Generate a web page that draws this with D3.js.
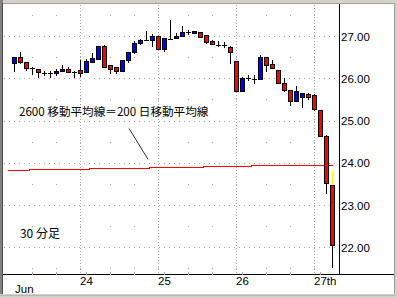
<!DOCTYPE html>
<html>
<head>
<meta charset="utf-8">
<script src="https://cdn.jsdelivr.net/npm/d3@7"></script>
<style>
  body { margin: 0; background: #d4d0c8; }
  text { font-family: "Liberation Sans", Arial, sans-serif; }
</style>
</head>
<body>
<div id="chart"></div>
<script>
// 30-minute candles, Jun 23 (partial) .. Jun 27
const open  = [26.37,26.50,26.39,26.24,26.21,26.13,26.13,26.12,26.17,26.22,26.14,
               26.19,26.14,26.39,26.46,26.76,26.31,26.26,26.18,26.43,26.61,26.83,26.91,26.90,
               26.99,26.69,26.94,26.95,27.00,27.09,27.06,27.10,27.02,26.87,26.79,26.78,26.73,
               26.40,25.70,26.01,25.99,25.98,26.50,26.33,26.19,25.88,25.72,25.45,25.56,25.62,
               25.60,25.24,24.63,23.47];
const high  = [26.50,26.61,26.39,26.27,26.21,26.18,26.16,26.21,26.31,26.27,26.17,
               26.43,26.45,26.59,26.76,26.79,26.31,26.26,26.43,26.63,26.88,26.93,27.12,27.04,
               26.99,26.96,27.38,27.06,27.24,27.14,27.12,27.10,27.02,26.91,26.87,26.85,26.76,
               26.40,26.02,26.07,26.08,26.55,26.50,26.43,26.19,26.00,25.72,25.82,25.56,25.64,
               25.63,25.24,24.65,23.81];
const low   = [26.16,26.35,26.20,26.10,26.04,26.07,26.02,26.07,26.17,26.14,26.02,
               26.06,26.14,26.39,26.46,26.27,26.13,26.13,26.18,26.39,26.59,26.81,26.90,26.77,
               26.70,26.65,26.92,26.95,27.00,27.04,27.06,26.98,26.83,26.81,26.77,26.73,26.35,
               25.70,25.70,25.96,25.88,25.98,26.18,26.24,25.88,25.70,25.36,25.45,25.33,25.51,
               25.25,24.64,23.29,21.54];
const close = [26.50,26.39,26.24,26.24,26.14,26.13,26.13,26.17,26.22,26.14,26.14,
               26.12,26.41,26.47,26.76,26.27,26.23,26.18,26.43,26.61,26.83,26.91,26.91,26.99,
               26.70,26.95,26.94,27.01,27.09,27.09,27.12,26.98,26.85,26.81,26.79,26.78,26.63,
               25.70,26.01,26.01,25.99,26.50,26.31,26.24,25.88,25.72,25.45,25.70,25.64,25.56,
               25.27,24.64,23.51,22.05];
// 2600-bar moving average (= 200-day MA)
const ma    = [23.82,23.82,23.82,
               23.845,23.845,23.845,23.845,23.845,23.845,23.845,23.845,23.845,23.845,
               23.87,23.87,23.87,23.87,23.87,23.87,23.87,23.87,23.87,23.87,
               23.89,23.89,23.89,23.89,23.89,23.89,23.89,23.89,23.89,
               23.915,23.915,23.915,23.915,23.915,23.915,23.915,23.915,
               23.935,23.935,23.935,23.935,23.935,23.935,23.935,23.935,23.935,23.935,23.935,23.935,23.935,23.935];

const dayStart   = [11, 24, 37, 50];
const dayLabel   = ["24", "25", "26", "27th"];
const monthLabel = "Jun";
const minorTicks = [3, 7, 12, 16, 20, 25, 29, 33, 38, 42, 46, 51];
const gridDots   = [3, 7, 16, 20, 29, 33, 42, 46];
const priceTicks = [22, 23, 24, 25, 26, 27];
const halfTicks  = [21.5, 22.5, 23.5, 24.5, 25.5, 26.5, 27.5];
const lastHighlight = 53;
const noteText = "2600 移動平均線＝200 日移動平均線";
const noteAt   = [0.75, 25.1];
const notePointer = [[19.1, 24.81], [22.25, 24.08]];
const barText  = "30 分足";
const barTextAt = [0.9, 22.22];

const W = 397, H = 298;
const plotL = 3, plotR = 339.5, plotT = 4, plotB = 274.5;

const svg = d3.select("#chart").append("svg")
  .attr("width", W).attr("height", H);

// frame
svg.append("rect").attr("width", W).attr("height", H).attr("fill", "#d4d0c8");
svg.append("rect").attr("x", 3).attr("y", 4).attr("width", 391).attr("height", 290).attr("fill", "#fff");
svg.append("rect").attr("x", 0).attr("y", 0).attr("width", 3).attr("height", 294).attr("fill", "#808080");
svg.append("line").attr("x1", 2.5).attr("x2", 2.5).attr("y1", 3).attr("y2", 294).attr("stroke", "#505050");
svg.append("line").attr("x1", 3).attr("x2", 395).attr("y1", 3.5).attr("y2", 3.5).attr("stroke", "#a0a0a0");
svg.append("line").attr("x1", 394.5).attr("x2", 394.5).attr("y1", 4).attr("y2", 294).attr("stroke", "#a0a0a0");
svg.append("line").attr("x1", 0).attr("x2", 395).attr("y1", 295.5).attr("y2", 295.5).attr("stroke", "#b8b8b8");

const x = d3.scaleLinear().domain([0, 53]).range([14.5, 332.5]);
const y = d3.scaleLinear().domain([22, 27]).range([247.25, 36]);
const snap = v => Math.round(v) + 0.5;

const g = svg.append("g").attr("shape-rendering", "crispEdges");

// grid
g.selectAll(".hgrid").data(priceTicks).enter().append("line")
  .attr("x1", plotL + 1).attr("x2", plotR)
  .attr("y1", d => snap(y(d))).attr("y2", d => snap(y(d)))
  .attr("stroke", "#a8a8a8").attr("stroke-dasharray", "1,4");

g.selectAll(".vgrid").data(dayStart).enter().append("line")
  .attr("x1", d => x(d)).attr("x2", d => x(d))
  .attr("y1", plotT + 1).attr("y2", plotB)
  .attr("stroke", "#a8a8a8").attr("stroke-dasharray", "1,2");

const dots = [];
gridDots.forEach(i => halfTicks.forEach(p => dots.push([i, p])));
dayStart.forEach(i => halfTicks.forEach(p => dots.push([i, p])));
g.selectAll(".dot").data(dots).enter().append("rect")
  .attr("x", d => x(d[0]) - 0.5).attr("y", d => snap(y(d[1])) - 0.5)
  .attr("width", 1).attr("height", 1).attr("fill", "#a8a8a8");

// moving average
const maLine = d3.line()
  .x(d => d[0]).y(d => snap(y(d[1])))
  .curve(d3.curveStepAfter);
const maPts = [[plotL + 5, ma[0]]].concat(ma.map((v, i) => [x(i) - 3, v]));
maPts.push([x(ma.length - 1), ma[ma.length - 1]]);
g.append("path").attr("d", maLine(maPts))
  .attr("fill", "none").attr("stroke", "#ff0000").attr("stroke-width", 1);

// candles
const candles = open.map((o, i) => ({i, o, h: high[i], l: low[i], c: close[i]}));
const cg = g.selectAll(".candle").data(candles).enter().append("g");

cg.append("line")
  .attr("x1", d => x(d.i)).attr("x2", d => x(d.i))
  .attr("y1", d => Math.round(y(d.h))).attr("y2", d => Math.round(y(d.l)) + 1)
  .attr("stroke", "#000");

cg.filter(d => d.i === lastHighlight).append("line")
  .attr("x1", d => x(d.i)).attr("x2", d => x(d.i))
  .attr("y1", d => Math.round(y(d.h))).attr("y2", d => Math.round(y(Math.max(d.o, d.c))))
  .attr("stroke", "#ffff00");

cg.filter(d => d.o !== d.c).append("rect")
  .attr("x", d => x(d.i) - 2)
  .attr("y", d => snap(y(Math.max(d.o, d.c))))
  .attr("width", 4)
  .attr("height", d => Math.max(1, snap(y(Math.min(d.o, d.c))) - snap(y(Math.max(d.o, d.c)))))
  .attr("fill", d => d.c > d.o ? "#0000ff" : "#ff0000")
  .attr("stroke", "#000");

cg.filter(d => d.o === d.c).append("line")
  .attr("x1", d => x(d.i) - 2.5).attr("x2", d => x(d.i) + 2.5)
  .attr("y1", d => snap(y(d.o))).attr("y2", d => snap(y(d.o)))
  .attr("stroke", "#000");

// axis lines
g.append("line").attr("x1", plotR).attr("x2", plotR).attr("y1", plotT).attr("y2", plotB)
  .attr("stroke", "#000");
g.append("line").attr("x1", plotL).attr("x2", 394).attr("y1", plotB).attr("y2", plotB)
  .attr("stroke", "#000");

// x ticks
g.selectAll(".mtick").data(minorTicks).enter().append("line")
  .attr("x1", d => x(d)).attr("x2", d => x(d))
  .attr("y1", plotB - 3).attr("y2", plotB)
  .attr("stroke", "#a8a8a8");

// labels
svg.selectAll(".ylab").data(priceTicks).enter().append("text")
  .attr("x", plotR + 1.5).attr("y", d => y(d) + 4.5)
  .attr("font-size", "11.5px").attr("fill", "#000")
  .text(d => d3.format(".2f")(d));

svg.selectAll(".xlab").data(dayStart).enter().append("text")
  .attr("x", d => x(d) - 0.5).attr("y", plotB + 10.5)
  .attr("font-size", "11.5px").attr("fill", "#000")
  .text((d, k) => dayLabel[k]);

svg.append("text").attr("x", x(0) + 0.5).attr("y", plotB + 18.5)
  .attr("font-size", "11.5px").text(monthLabel);

// annotations
const cjk = '"Noto Sans CJK JP", "Noto Sans", sans-serif';
svg.append("text").attr("x", x(noteAt[0])).attr("y", y(noteAt[1]))
  .attr("font-size", "11.6px").style("font-family", cjk).text(noteText);
svg.append("line")
  .attr("x1", x(notePointer[0][0])).attr("y1", y(notePointer[0][1]))
  .attr("x2", x(notePointer[1][0])).attr("y2", y(notePointer[1][1]))
  .attr("stroke", "#333");
svg.append("text").attr("x", x(barTextAt[0])).attr("y", y(barTextAt[1]))
  .attr("font-size", "12px").style("font-family", cjk).text(barText);
</script>
</body>
</html>
